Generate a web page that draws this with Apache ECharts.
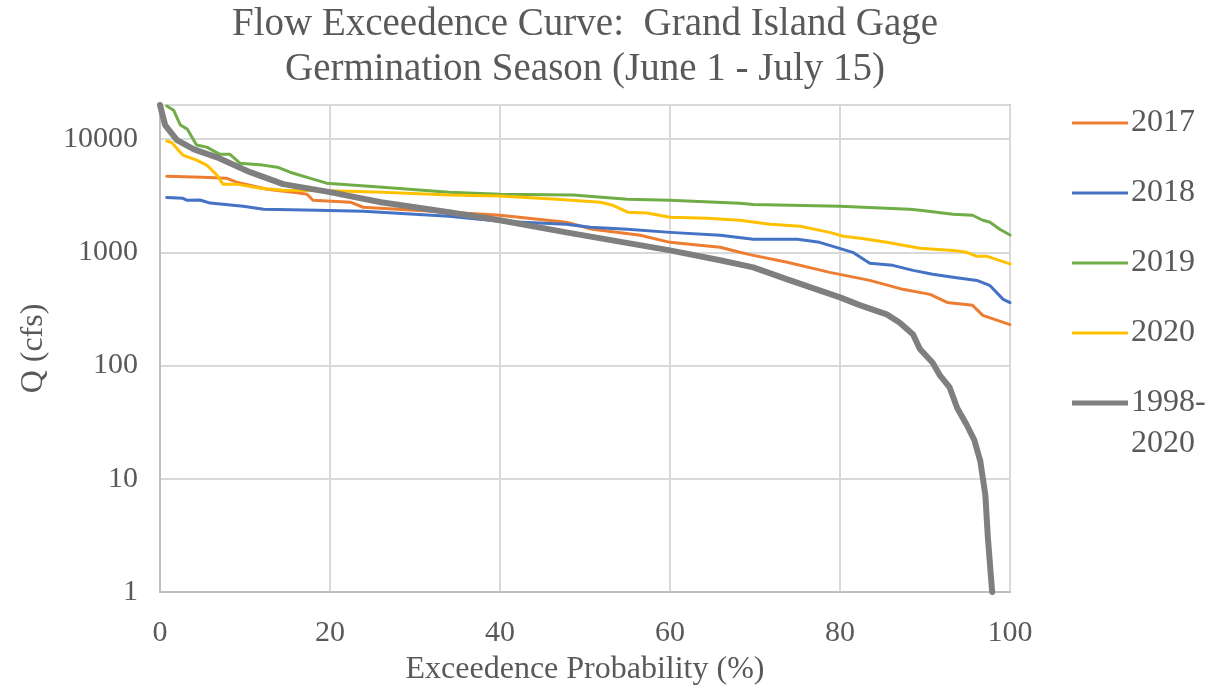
<!DOCTYPE html>
<html>
<head>
<meta charset="utf-8">
<script src="https://cdn.jsdelivr.net/npm/echarts@6/dist/echarts.min.js"></script>
<style>html,body{margin:0;padding:0;background:#fff;}#c{width:1211px;height:691px;}</style>
</head>
<body>
<div id="c"></div>
<script>
var titleLines = ['Flow Exceedence Curve:  Grand Island Gage', 'Germination Season (June 1 - July 15)'];
var xAxisName = 'Exceedence Probability (%)';
var yAxisName = 'Q (cfs)';
var seriesNames = ['2017', '2018', '2019', '2020', '1998-2020'];

var x2017 = [0.8, 5, 7.8, 9, 12.6, 15.6, 17.3, 18, 22.4, 23.9, 34, 40, 47.8, 50.9, 56.5, 60, 63.5, 65.9, 68.2, 69.8, 73.8, 78.8, 83.5, 87.4, 90.6, 92.6, 95.6, 96.8, 100];
var q2017 = [4700, 4600, 4520, 4170, 3610, 3400, 3260, 2880, 2770, 2500, 2260, 2125, 1843, 1600, 1415, 1225, 1153, 1107, 1000, 940, 817, 665, 565, 471, 425, 361, 340, 277, 230];

var x2018 = [0.8, 2.7, 3.2, 4.7, 5.9, 9.8, 12.2, 18.5, 23.9, 34, 40, 47.8, 50.6, 55, 60, 65.9, 69.8, 75, 77.6, 81.5, 83.5, 86.2, 88.6, 90.9, 93.3, 96.1, 97.6, 99.2, 100];
var q2018 = [3050, 3000, 2880, 2900, 2720, 2550, 2400, 2350, 2300, 2080, 1880, 1770, 1665, 1600, 1500, 1415, 1303, 1303, 1225, 1000, 800, 767, 693, 639, 601, 565, 511, 384, 360];

var x2019 = [0.8, 1.6, 2.4, 3.2, 4.3, 5.5, 7, 8.2, 9.4, 12.1, 13.8, 15.3, 18, 19.6, 26.2, 34, 40, 48.6, 55, 60, 68.2, 69.8, 80, 88.2, 89.4, 93.3, 95.6, 96.8, 97.6, 98.8, 100];
var q2019 = [19600, 18000, 13300, 12250, 8850, 8490, 7360, 7360, 6130, 5890, 5650, 5100, 4430, 4080, 3760, 3400, 3260, 3200, 2945, 2885, 2715, 2650, 2550, 2400, 2350, 2170, 2125, 1920, 1850, 1600, 1420];

var x2020 = [0.8, 1.4, 2.7, 4.3, 5.5, 6.7, 7.4, 9, 11.8, 14.5, 20, 26.2, 34, 40, 46.7, 51.8, 53.3, 55, 57.3, 60, 64.4, 68.2, 71.8, 75.3, 78.8, 80.4, 82.4, 85.5, 89.4, 93.3, 94.9, 96.1, 97.3, 100];
var q2020 = [9600, 9300, 7210, 6520, 5890, 4800, 4000, 4000, 3680, 3540, 3500, 3400, 3200, 3150, 2945, 2770, 2600, 2260, 2220, 2040, 2000, 1920, 1770, 1700, 1500, 1387, 1330, 1225, 1085, 1040, 1000, 922, 922, 790];

var xAll = [0, 0.6, 2, 4, 6.7, 10.6, 14.5, 20, 26, 34, 40, 47.8, 60, 65.9, 69.8, 73.8, 80, 82.4, 85.5, 87, 88.6, 89.4, 90.9, 91.8, 92.9, 93.8, 94.9, 95.8, 96.5, 97.1, 97.4, 97.9];
var qAll = [20000, 13300, 9800, 8100, 6900, 5100, 4000, 3400, 2770, 2260, 1920, 1500, 1040, 850, 736, 577, 400, 340, 283, 240, 188, 140, 106, 81, 64, 42, 30, 22, 14.4, 7.2, 3, 1];

var xTicks = [0, 20, 40, 60, 80, 100];
var yTicks = [1, 10, 100, 1000, 10000];

function pairs(xs, ys) { return xs.map(function (x, i) { return [x, ys[i]]; }); }

var colors = ['#ED7D31', '#4472C4', '#70AD47', '#FFC000', '#7F7F7F'];
var widths = [3, 3, 3, 3, 6];
var xsList = [x2017, x2018, x2019, x2020, xAll];
var ysList = [q2017, q2018, q2019, q2020, qAll];

var FONT = "'Liberation Serif', 'Times New Roman', serif";
var TXT = '#595959';
var plotCenter = 160 + (1211 - 201 - 160) / 2;

var chart = echarts.init(document.getElementById('c'));
chart.setOption({
  animation: false,
  backgroundColor: '#fff',
  title: {
    text: titleLines.join('\n'),
    left: plotCenter,
    textAlign: 'center',
    top: 2,
    padding: 0,
    textStyle: { fontFamily: FONT, fontSize: 39, fontWeight: 'normal', color: TXT, lineHeight: 45 }
  },
  legend: {
    orient: 'vertical',
    left: 1067,
    top: 100,
    itemWidth: 56,
    itemHeight: 14,
    itemGap: 34,
    data: seriesNames.map(function (n, i) {
      return { name: n, icon: 'path://M0,0H56V' + (i === 4 ? 5 : 3) + 'H0Z', itemStyle: { color: colors[i] } };
    }),
    formatter: function (n) { return n === '1998-2020' ? '1998-' : n; },
    textStyle: { fontFamily: FONT, fontSize: 32, color: TXT, lineHeight: 36, padding: [0, 0, 0, -2] }
  },
  graphic: [{
    type: 'text',
    left: 1131,
    top: 428,
    style: { text: '2020', fontFamily: FONT, fontSize: 32, fill: TXT }
  }],
  grid: {
    left: 160, right: 201, top: 105, bottom: 97,
    show: true, borderColor: '#BFBFBF', borderWidth: 2, containLabel: false
  },
  xAxis: {
    type: 'value',
    min: xTicks[0], max: xTicks[xTicks.length - 1], interval: 20,
    name: xAxisName, nameLocation: 'middle', nameGap: 62,
    nameTextStyle: { fontFamily: FONT, fontSize: 32, color: TXT },
    axisLine: { show: true, lineStyle: { color: '#BFBFBF', width: 2 } },
    axisTick: { show: false },
    axisLabel: { fontFamily: FONT, fontSize: 30, color: TXT, margin: 26 },
    splitLine: { show: true, lineStyle: { color: '#D9D9D9', width: 2 } }
  },
  yAxis: {
    type: 'log', logBase: 10,
    min: yTicks[0], max: 20000,
    name: yAxisName, nameLocation: 'middle', nameGap: 110,
    nameTextStyle: { fontFamily: FONT, fontSize: 32, color: TXT },
    axisLine: { show: true, lineStyle: { color: '#BFBFBF', width: 2 } },
    axisTick: { show: false },
    axisLabel: {
      fontFamily: FONT, fontSize: 30, color: TXT, margin: 22,
      formatter: function (v) { return yTicks.indexOf(Math.round(v)) >= 0 ? String(Math.round(v)) : ''; }
    },
    splitLine: { show: true, lineStyle: { color: '#D9D9D9', width: 2 } }
  },
  series: seriesNames.map(function (n, i) {
    return {
      name: n,
      type: 'line',
      data: pairs(xsList[i], ysList[i]),
      symbol: 'none',
      smooth: false,
      lineStyle: { color: colors[i], width: widths[i], join: 'round', cap: 'round' },
      itemStyle: { color: colors[i] },
      z: 2 + i
    };
  })
});
</script>
</body>
</html>
